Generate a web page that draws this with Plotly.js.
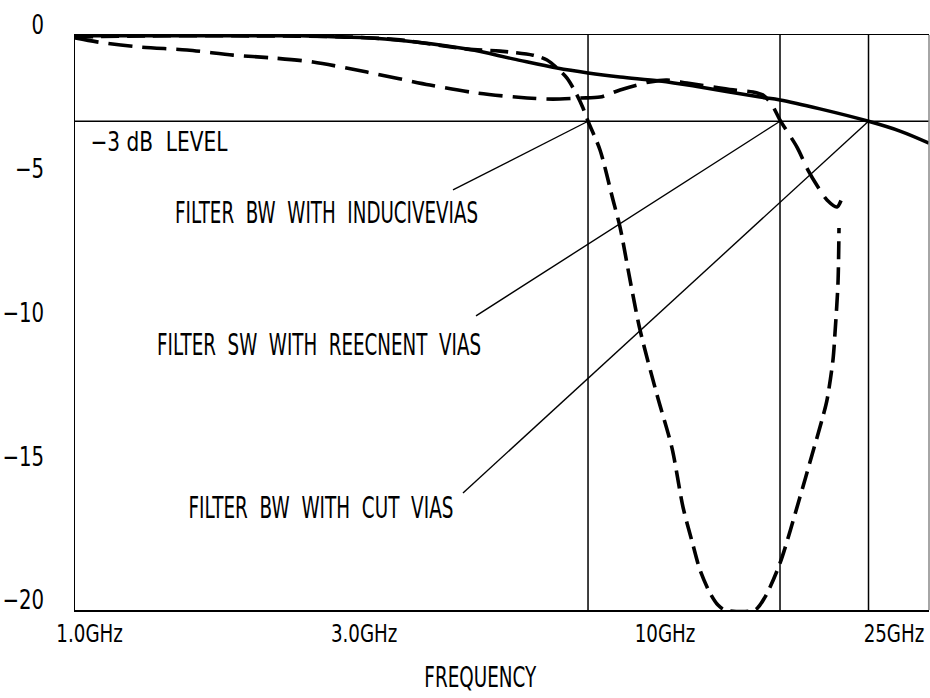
<!DOCTYPE html>
<html><head><meta charset="utf-8">
<script src="https://cdn.plot.ly/plotly-3.0.1.min.js"></script>
<style>html,body{margin:0;padding:0;background:#fff}#chart{width:930px;height:698px}</style>
</head><body><div id="chart"></div>
<script>
// Frequencies in GHz, insertion loss in dB
const cutViasFreq = [0.9433, 1.2734, 1.9004, 2.3209, 2.7236, 3.2617, 4.5284, 5.4431, 6.4913, 7.3487, 8.3530, 9.8018, 11.5035, 14.626, 15.8447, 18.5932, 22.578, 25.61, 28.762];
const cutViasDb   = [-0.03, -0.03, -0.03, -0.03, -0.07, -0.14, -0.49, -0.83, -1.15, -1.32, -1.46, -1.60, -1.81, -2.16, -2.26, -2.57, -3.0, -3.34, -3.76];

const inductiveFreq = [0.9433, 1.2734, 1.9004, 2.8347, 3.4632, 4.5284, 5.1687, 5.8967, 6.2365, 6.4913, 6.7563, 7.0322, 7.2030, 7.3487, 7.7103, 8.1220, 8.3530, 8.6940, 9.0488, 9.6858, 10.2843, 10.7471, 11.1859, 11.5035, 11.9729, 12.3621, 12.7133, 14.3351, 14.9216, 15.8447, 17.1624, 18.0073, 18.7423, 19.1217, 19.5865, 19.7438, 19.9823, 20.0626];
const inductiveDb   = [-0.07, -0.03, -0.03, -0.07, -0.17, -0.49, -0.56, -0.70, -0.87, -1.15, -1.50, -2.09, -2.54, -3.0, -4.00, -5.74, -6.68, -8.52, -10.26, -12.52, -14.37, -16.42, -17.74, -18.61, -19.41, -19.83, -20, -20, -19.55, -18.37, -16.07, -14.61, -13.39, -12.70, -11.30, -10.37, -8.63, -6.71];

const reentrantFreq = [0.9433, 1.0301, 1.2234, 1.4767, 1.7754, 2.0831, 2.4448, 3.0345, 3.9043, 4.7133, 5.7568, 6.3882, 7.1171, 7.7103, 8.3530, 9.4182, 10.0804, 10.9207, 13.1270, 14.2210, 14.8027, 15.3454, 15.8447, 16.9576, 17.7210, 18.4450, 19.1217, 19.9025, 20.3862];
const reentrantDb   = [-0.10, -0.24, -0.42, -0.52, -0.70, -0.80, -0.94, -1.29, -1.74, -2.02, -2.19, -2.23, -2.19, -2.16, -1.91, -1.63, -1.57, -1.67, -1.91, -1.98, -2.09, -2.43, -2.96, -3.90, -4.70, -5.29, -5.74, -5.98, -5.57];

// -3 dB bandwidth markers
const levelDb = -3;
const bwMarkerFreq = [7.3487, 15.8447, 22.578];

// Axis ticks
const xTickVals = [1, 3, 10, 25];
const xTickText = ['1.0GHz', '3.0GHz', '10GHz', '25GHz'];
const yTickVals = [0, -5, -10, -15, -20];

// Callout labels and leader lines
const GAP = '\u00a0\u00a0';
const calloutText = ['FILTER' + GAP + 'BW' + GAP + 'WITH' + GAP + 'INDUCIVEVIAS',
                     'FILTER' + GAP + 'SW' + GAP + 'WITH' + GAP + 'REECNENT' + GAP + 'VIAS',
                     'FILTER' + GAP + 'BW' + GAP + 'WITH' + GAP + 'CUT' + GAP + 'VIAS'];
const calloutFreq = [2.5805, 2.5042, 2.5193];
const calloutDb = [-6.19, -10.78, -16.42];
const leaderStartFreq = [4.281, 4.694, 4.456];
const leaderStartDb = [-5.39, -9.77, -15.93];
const levelLabel = '\u22123 dB\u00a0\u00a0LEVEL';
const levelLabelFreq = 1.3175, levelLabelDb = -3.69;

const FONT = 'DejaVu Sans, sans-serif';
const xMin = 0.9433, xMax = 28.762, yMin = -20, yMax = 0;

const traces = [];
traces.push({x: [xMin, xMax], y: [levelDb, levelDb], mode: 'lines', line: {color: '#000', width: 1.5}, hoverinfo: 'skip', showlegend: false});
bwMarkerFreq.forEach(f => traces.push({x: [f, f], y: [yMin, yMax], mode: 'lines', line: {color: '#000', width: 1.5}, hoverinfo: 'skip', showlegend: false}));
for (let i = 0; i < 3; i++) {
  traces.push({x: [leaderStartFreq[i], bwMarkerFreq[i]], y: [leaderStartDb[i], levelDb], mode: 'lines', line: {color: '#000', width: 1.4}, hoverinfo: 'skip', showlegend: false});
}
traces.push({name: 'Cut vias', x: cutViasFreq, y: cutViasDb, mode: 'lines', line: {color: '#000', width: 3.5, shape: 'spline'}, showlegend: false});
traces.push({name: 'Inductive vias', x: inductiveFreq, y: inductiveDb, mode: 'lines', line: {color: '#000', width: 3.6, dash: '18px,8px', shape: 'spline', smoothing: 0.8}, showlegend: false});
traces.push({name: 'Reentrant vias', x: reentrantFreq, y: reentrantDb, mode: 'lines', line: {color: '#000', width: 3.6, dash: '24px,10px', shape: 'spline', smoothing: 0.8}, showlegend: false});

const annotations = calloutText.map((t, i) => ({
  text: t, x: Math.log10(calloutFreq[i]), y: calloutDb[i], xref: 'x', yref: 'y',
  xanchor: 'center', yanchor: 'middle', showarrow: false, font: {family: FONT, size: 30, color: '#000'}
}));
annotations.push({text: levelLabel, x: Math.log10(levelLabelFreq), y: levelLabelDb, xref: 'x', yref: 'y', xanchor: 'center', yanchor: 'middle', showarrow: false, font: {family: FONT, size: 27, color: '#000'}});
annotations.push({text: 'FREQUENCY', x: 0.475, y: -0.1165, xref: 'paper', yref: 'paper', xanchor: 'center', yanchor: 'middle', showarrow: false, font: {family: FONT, size: 29, color: '#000'}});
// rendered widths (px) of the condensed lettering, in annotation order
const annotationWidths = [303, 324, 265, 137, 112];
const tickSqueeze = 0.73;

const layout = {
  width: 930, height: 698,
  margin: {l: 75, r: 1, t: 35, b: 88},
  paper_bgcolor: '#fff', plot_bgcolor: '#fff',
  showlegend: false,
  font: {family: FONT, color: '#000', size: 26},
  xaxis: {type: 'log', range: [-0.02537, 1.45881], tickvals: xTickVals, ticktext: xTickText,
    showgrid: false, zeroline: false, showline: true, mirror: true, linecolor: '#000', linewidth: 1.5,
    ticks: '', ticklabelstandoff: 0, ticklabeloverflow: 'allow', tickfont: {family: FONT, size: 25, color: '#000'}},
  yaxis: {range: [yMin, yMax], tickvals: yTickVals, showgrid: false, zeroline: false,
    showline: true, linecolor: '#000', linewidth: 1.5, ticks: '', ticklabelshift: -10, ticklabelstandoff: 24,
    tickfont: {family: FONT, size: 27, color: '#000'}},
  shapes: [{type: 'line', xref: 'paper', yref: 'paper', x0: 1, x1: 1, y0: 0, y1: 1, line: {color: '#888', width: 1.5}}],
  annotations: annotations
};

Plotly.newPlot('chart', traces, layout, {displayModeBar: false, staticPlot: true}).then(gd => {
  annotationWidths.forEach((w, i) => {
    const t = gd.querySelector('.annotation[data-index="' + i + '"] .annotation-text');
    if (t) { t.setAttribute('textLength', w); t.setAttribute('lengthAdjust', 'spacingAndGlyphs'); }
  });
  gd.querySelectorAll('.xtick text, .ytick text').forEach(t => {
    const w = t.getComputedTextLength();
    t.setAttribute('textLength', (w * tickSqueeze).toFixed(1));
    t.setAttribute('lengthAdjust', 'spacingAndGlyphs');
  });
});
</script></body></html>
